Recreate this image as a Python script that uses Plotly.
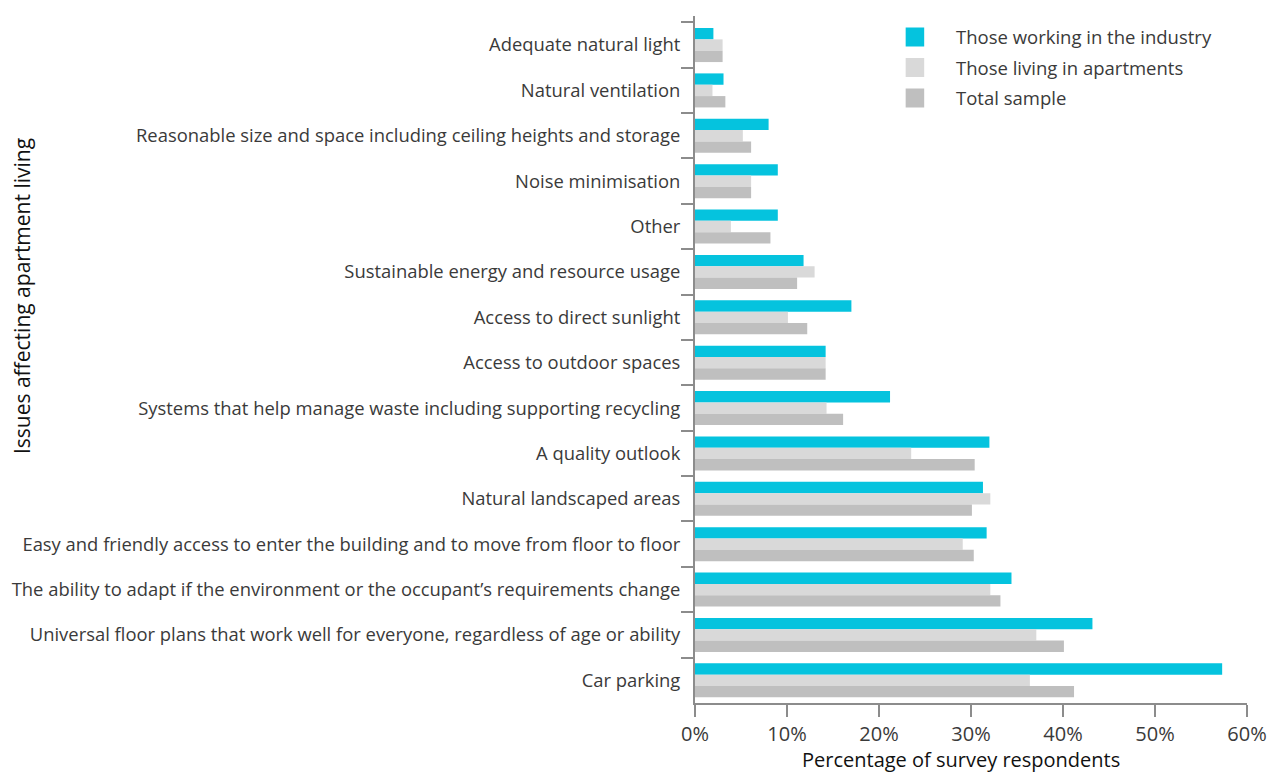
import plotly.graph_objects as go

# Issues listed top to bottom as they appear on the chart
issues = [
    "Adequate natural light",
    "Natural ventilation",
    "Reasonable size and space including ceiling heights and storage",
    "Noise minimisation",
    "Other",
    "Sustainable energy and resource usage",
    "Access to direct sunlight",
    "Access to outdoor spaces",
    "Systems that help manage waste including supporting recycling",
    "A quality outlook",
    "Natural landscaped areas",
    "Easy and friendly access to enter the building and to move from floor to floor",
    "The ability to adapt if the environment or the occupant\u2019s requirements change",
    "Universal floor plans that work well for everyone, regardless of age or ability",
    "Car parking",
]

# Percentage of respondents selecting each issue
industry = [2.0, 3.1, 8.0, 9.0, 9.0, 11.8, 17.0, 14.2, 21.2, 32.0, 31.3, 31.7, 34.4, 43.2, 57.3]
apartments = [3.0, 1.9, 5.2, 6.1, 3.9, 13.0, 10.1, 14.2, 14.3, 23.5, 32.1, 29.1, 32.1, 37.1, 36.4]
total = [3.0, 3.3, 6.1, 6.1, 8.2, 11.1, 12.2, 14.2, 16.1, 30.4, 30.1, 30.3, 33.2, 40.1, 41.2]

series_names = ["Those working in the industry", "Those living in apartments", "Total sample"]
series_values = [industry, apartments, total]
series_colors = ["#05C3DE", "#D9D9D9", "#BFBFBF"]

tick_values = [0, 10, 20, 30, 40, 50, 60]
tick_labels = ["0%", "10%", "20%", "30%", "40%", "50%", "60%"]

FONT = "Open Sans"
TEXT = "#3a3a3a"
AXIS = "#8c8c8c"

# Figure geometry (pixels), used to place the key in paper coordinates
W, H = 1279, 772
ML, MR, MT, MB = 690, 23, 16, 69
PW, PH = W - ML - MR, H - MT - MB


def px_x(p):
    return (p - ML) / PW


def px_y(p):
    return (H - MB - p) / PH


fig = go.Figure()
for name, vals, color in zip(series_names, series_values, series_colors):
    fig.add_trace(go.Bar(
        y=issues, x=vals, name=name, orientation="h",
        marker=dict(color=color, line=dict(width=0)),
        showlegend=False,
    ))

# Key: coloured squares with labels at the top right
shapes, annotations = [], []
row_centres = [37, 67.5, 98]
for name, color, cy in zip(series_names, series_colors, row_centres):
    shapes.append(dict(
        type="rect", xref="paper", yref="paper",
        x0=px_x(906), x1=px_x(925), y0=px_y(cy + 9.5), y1=px_y(cy - 9.5),
        fillcolor=color, line=dict(width=0),
    ))
    annotations.append(dict(
        text=name, xref="paper", yref="paper",
        x=px_x(956), y=px_y(cy), xanchor="left", yanchor="middle",
        showarrow=False, font=dict(size=18.5, color=TEXT, family=FONT),
    ))

annotations += [
    dict(text="Percentage of survey respondents", xref="paper", yref="paper",
         x=px_x(963), y=px_y(759), xanchor="center", yanchor="middle", showarrow=False,
         font=dict(size=20, color="#111111", family=FONT)),
    dict(text="Issues affecting apartment living", xref="paper", yref="paper",
         x=px_x(0), y=px_y(296), xanchor="center", yanchor="middle", showarrow=False,
         textangle=-90, font=dict(size=21, color="#111111", family=FONT)),
]

fig.update_layout(
    width=W, height=H,
    margin=dict(l=ML, r=MR, t=MT, b=MB),
    barmode="group", bargap=0.25, bargroupgap=0,
    plot_bgcolor="white", paper_bgcolor="white",
    font=dict(family=FONT, color=TEXT, size=18),
    showlegend=False,
    xaxis=dict(
        range=[0, 60], tickvals=tick_values, ticktext=tick_labels,
        showgrid=False, zeroline=False,
        showline=True, linecolor=AXIS, linewidth=2,
        ticks="outside", ticklen=12, tickcolor=AXIS, tickwidth=2,
        tickfont=dict(size=20, color=TEXT, family=FONT),
    ),
    yaxis=dict(
        type="category", categoryorder="array", categoryarray=issues,
        range=[14.5, -0.64],
        showgrid=False, zeroline=False,
        showline=True, linecolor=AXIS, linewidth=2,
        ticks="outside", ticklen=12, tickcolor=AXIS, tickwidth=2,
        tickson="boundaries", ticklabelstandoff=9,
        tickfont=dict(size=18.4, color=TEXT, family=FONT),
    ),
    shapes=shapes,
    annotations=annotations,
)

fig.write_html("out.html")
